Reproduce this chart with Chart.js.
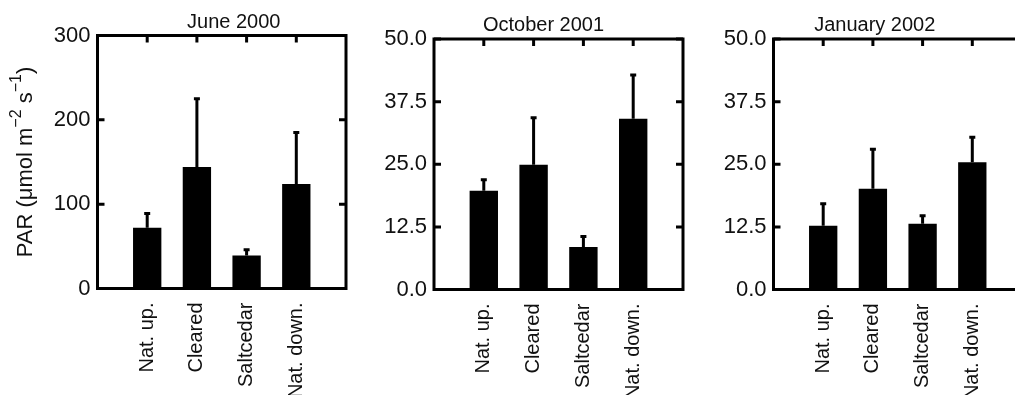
<!DOCTYPE html>
<html>
<head>
<meta charset="utf-8">
<script src="https://cdn.jsdelivr.net/npm/chart.js@4.4.1/dist/chart.umd.min.js"></script>
<style>
  html, body { margin: 0; padding: 0; background: #fff; overflow: hidden; }
  .panel { position: absolute; top: 0; height: 395px; }
</style>
</head>
<body>
<div class="panel" style="left:0;width:360px"><canvas id="june" width="360" height="395"></canvas></div>
<div class="panel" style="left:360px;width:335px"><canvas id="october" width="335" height="395"></canvas></div>
<div class="panel" style="left:695px;width:340px"><canvas id="january" width="340" height="395"></canvas></div>
<script>
// sites along the river
const categories = ["Nat. up.", "Cleared", "Saltcedar", "Nat. down."];

// mean PAR and standard error per site
const june2000Means = [72, 144, 39, 124];
const june2000Errors = [17, 81, 7, 61];
const oct2001Means = [19.7, 24.9, 8.5, 34.1];
const oct2001Errors = [2.2, 9.4, 2.1, 8.7];
const jan2002Means = [12.7, 20.1, 13.1, 25.4];
const jan2002Errors = [4.4, 7.9, 1.6, 5.0];

// y axis tick values
const juneTicks = [0, 100, 200, 300];
const laterTicks = [0, 12.5, 25, 37.5, 50];

const panelTitles = ["June 2000", "October 2001", "January 2002"];
const yTitleParts = [["PAR (μmol m", false], ["−2", true], [" s", false], ["−1", true], [")", false]];

const FONT = "'Liberation Sans', Arial, Helvetica, sans-serif";
const INK = "#111";

// frame round the plot area with inward ticks on every side
const framePlugin = {
    id: "frame",
    afterDatasetsDraw(chart) {
        const { ctx, chartArea: a, scales } = chart;
        ctx.save();
        ctx.strokeStyle = "#000";
        ctx.lineWidth = 3;
        ctx.strokeRect(a.left, a.top, a.right - a.left, a.bottom - a.top);
        const len = 7;
        ctx.beginPath();
        categories.forEach((c, i) => {
            const x = scales.x.getPixelForValue(i + 1);
            ctx.moveTo(x, a.top);
            ctx.lineTo(x, a.top + len);
        });
        scales.y.ticks.forEach((t) => {
            const y = scales.y.getPixelForValue(t.value);
            ctx.moveTo(a.left, y);
            ctx.lineTo(a.left + len, y);
            ctx.moveTo(a.right, y);
            ctx.lineTo(a.right - len, y);
        });
        ctx.stroke();
        ctx.restore();
    },
};

// one-sided error bars (mean + SE)
const errorBarPlugin = {
    id: "errorBars",
    afterDatasetsDraw(chart, args, opts) {
        const { ctx } = chart;
        const yScale = chart.scales.y;
        const meta = chart.getDatasetMeta(0);
        const values = chart.data.datasets[0].data;
        ctx.save();
        ctx.strokeStyle = "#000";
        ctx.lineWidth = 3;
        meta.data.forEach((bar, i) => {
            const v = values[i];
            if (v === null) return;
            const yTop = yScale.getPixelForValue(v + opts.errors[i - 1]);
            ctx.beginPath();
            ctx.moveTo(bar.x, bar.y);
            ctx.lineTo(bar.x, yTop);
            ctx.moveTo(bar.x - 3, yTop);
            ctx.lineTo(bar.x + 3, yTop);
            ctx.stroke();
        });
        ctx.restore();
    },
};

// panel title above the frame
const titlePlugin = {
    id: "panelTitle",
    afterDraw(chart, args, opts) {
        const { ctx, chartArea: a } = chart;
        ctx.save();
        ctx.font = "20px " + FONT;
        ctx.fillStyle = INK;
        ctx.textAlign = "center";
        ctx.textBaseline = "alphabetic";
        ctx.fillText(opts.text, (a.left + a.right) / 2 + opts.shift, a.top - 8);
        ctx.restore();
    },
};

// y axis title with superscripts (first panel only)
const yTitlePlugin = {
    id: "yTitle",
    afterDraw(chart, args, opts) {
        if (!opts.show) return;
        const { ctx, chartArea: a } = chart;
        const mainFont = "22px " + FONT;
        const supFont = "16px " + FONT;
        ctx.save();
        ctx.translate(a.left - 72, (a.top + a.bottom) / 2);
        ctx.rotate(-Math.PI / 2);
        ctx.fillStyle = INK;
        ctx.textBaseline = "middle";
        ctx.textAlign = "left";
        let total = 0;
        yTitleParts.forEach(([t, sup]) => {
            ctx.font = sup ? supFont : mainFont;
            total += ctx.measureText(t).width;
        });
        let x = -total / 2;
        yTitleParts.forEach(([t, sup]) => {
            ctx.font = sup ? supFont : mainFont;
            ctx.fillText(t, x, sup ? -9 : 0);
            x += ctx.measureText(t).width;
        });
        ctx.restore();
    },
};

function makePanel(id, cfg) {
    const ctx = document.getElementById(id).getContext("2d");
    new Chart(ctx, {
        type: "bar",
        data: {
            labels: ["", ...categories, ""],
            datasets: [
                {
                    data: [null, ...cfg.means, null],
                    backgroundColor: "#000",
                    borderWidth: 0,
                    barPercentage: 0.57,
                    categoryPercentage: 1,
                },
            ],
        },
        options: {
            responsive: false,
            animation: false,
            layout: { padding: { top: cfg.top, right: cfg.right, left: 0, bottom: 0 } },
            plugins: {
                legend: { display: false },
                tooltip: { enabled: false },
                errorBars: { errors: cfg.errors },
                panelTitle: { text: cfg.title, shift: cfg.titleShift },
                yTitle: { show: cfg.yTitle },
            },
            scales: {
                x: {
                    offset: false,
                    grid: { display: false, drawTicks: false },
                    border: { display: false },
                    ticks: {
                        minRotation: 90,
                        maxRotation: 90,
                        autoSkip: false,
                        padding: 14,
                        color: INK,
                        font: { family: FONT, size: 20 },
                    },
                    afterFit: (s) => {
                        s.height = cfg.xHeight;
                        s.paddingLeft = 0;
                        s.paddingRight = 0;
                    },
                },
                y: {
                    min: cfg.ticks[0],
                    max: cfg.ticks[cfg.ticks.length - 1],
                    grid: { display: false, drawTicks: false },
                    border: { display: false },
                    afterBuildTicks: (s) => {
                        s.ticks = cfg.ticks.map((v) => ({ value: v }));
                    },
                    ticks: {
                        padding: 7,
                        color: INK,
                        font: { family: FONT, size: 22 },
                        callback: (v) => cfg.format(v),
                    },
                    afterFit: (s) => {
                        s.width = cfg.yWidth;
                    },
                },
            },
        },
        plugins: [framePlugin, errorBarPlugin, titlePlugin, yTitlePlugin],
    });
}

makePanel("june", {
    means: june2000Means,
    errors: june2000Errors,
    ticks: juneTicks,
    format: (v) => String(v),
    title: panelTitles[0],
    titleShift: 12,
    yTitle: true,
    top: 35.5,
    right: 14,
    yWidth: 97.5,
    xHeight: 106.5,
});

makePanel("october", {
    means: oct2001Means,
    errors: oct2001Errors,
    ticks: laterTicks,
    format: (v) => v.toFixed(1),
    title: panelTitles[1],
    titleShift: -15,
    yTitle: false,
    top: 39,
    right: 12,
    yWidth: 74,
    xHeight: 105.5,
});

makePanel("january", {
    means: jan2002Means,
    errors: jan2002Errors,
    ticks: laterTicks,
    format: (v) => v.toFixed(1),
    title: panelTitles[2],
    titleShift: -23,
    yTitle: false,
    top: 39,
    right: 13,
    yWidth: 78.5,
    xHeight: 105.5,
});
</script>
</body>
</html>
